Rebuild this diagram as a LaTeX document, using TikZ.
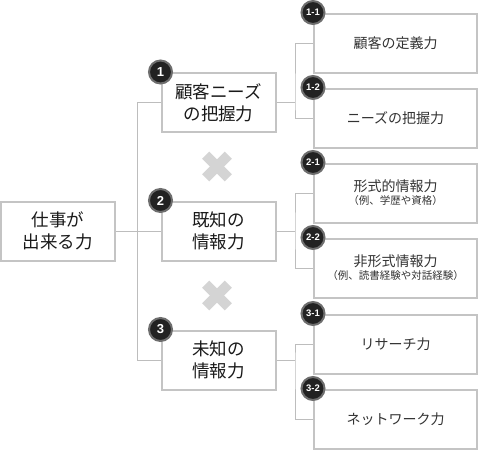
\documentclass[tikz,border=0pt]{standalone}
\usepackage{fontspec}
\setmainfont{Noto Sans CJK JP}
\newfontfamily\badgefont{Liberation Sans}
\definecolor{boxgray}{HTML}{C4C4C4}
\definecolor{linegray}{HTML}{BDBDBD}
\definecolor{xgray}{HTML}{D4D4D4}
\definecolor{txt}{HTML}{1A1A1A}
\definecolor{txtlight}{HTML}{333333}
\definecolor{badgefill}{HTML}{222222}
\definecolor{badgering}{HTML}{6E6E6E}
\begin{document}
\begin{tikzpicture}[x=1pt,y=-1pt,
  mainbox/.style={draw=boxgray, line width=2pt, fill=white, inner sep=0pt, align=center,
    minimum width=114pt, minimum height=59pt, text=txt,
    font=\fontsize{17.5}{22}\selectfont},
  subbox/.style={draw=boxgray, line width=2pt, fill=white, inner sep=0pt, align=center,
    minimum width=163pt, minimum height=59pt, text=txtlight,
    font=\fontsize{14}{16}\selectfont},
  badge/.style={circle, fill=badgefill, draw=badgering, line width=2pt, inner sep=0pt,
    minimum size=23pt, text=white, font=\badgefont\bfseries\fontsize{13}{13}\selectfont},
  sbadge/.style={badge, font=\badgefont\bfseries\fontsize{9.5}{10}\selectfont},
  conn/.style={draw=linegray, line width=1pt}]
\useasboundingbox (0,0) rectangle (480,450);
\fill[white] (0,0) rectangle (480,450);

\coordinate (tx) at (137.7,231);
\coordinate (b1) at (295,102.5);
\coordinate (b2) at (295,231);
\coordinate (b3) at (295,360);

% root and level-1 boxes
\node[mainbox] (root) at (58,231) {仕事が\\出来る力};
\node[mainbox] (la) at (218.5,102.5) {顧客ニーズ\\の把握力};
\node[mainbox] (lb) at (218.5,231) {既知の\\情報力};
\node[mainbox] (lc) at (218.5,360) {未知の\\情報力};

% level-2 boxes
\node[subbox] (r11) at (395.5,43) {顧客の定義力};
\node[subbox] (r12) at (395.5,118) {ニーズの把握力};
\node[subbox] (r21) at (395.5,193) {形式的情報力\\[-3pt]{\fontsize{10.5}{12}\selectfont （例、学歴や資格）}};
\node[subbox] (r22) at (395.5,268) {非形式情報力\\[-3pt]{\fontsize{10.5}{12}\selectfont （例、読書経験や対話経験）}};
\node[subbox] (r31) at (395.5,344) {リサーチ力};
\node[subbox] (r32) at (395.5,419) {ネットワーク力};

% connectors
\path[conn] (root.east) -- (lb.west);
\path[conn] (la.west) -| (tx) |- (lc.west);
\path[conn] (la.east) -- (b1);
\path[conn] (r11.west) -| (b1) |- (r12.west);
\path[conn] (lb.east) -- (b2);
\path[conn] (r21.west) -| (b2) |- (r22.west);
\path[conn] (lc.east) -- (b3);
\path[conn] (r31.west) -| (b3) |- (r32.west);

% badges
\node[badge] (ba) at (la.north west) {1};
\node[badge] (bb) at (lb.north west) {2};
\node[badge] (bc) at (lc.north west) {3};
\node[sbadge] (b11) at (r11.north west) {1-1};
\node[sbadge] (b12) at (r12.north west) {1-2};
\node[sbadge] (b21) at (r21.north west) {2-1};
\node[sbadge] (b22) at (r22.north west) {2-2};
\node[sbadge] (b31) at (r31.north west) {3-1};
\node[sbadge] (b32) at (r32.north west) {3-2};

% cross marks
\foreach \cy in {166.5,295.5}{
  \fill[xgray, rotate around={45:(217,\cy)}] (201,\cy-5) rectangle (233,\cy+5);
  \fill[xgray, rotate around={-45:(217,\cy)}] (201,\cy-5) rectangle (233,\cy+5);
}
\end{tikzpicture}
\end{document}
